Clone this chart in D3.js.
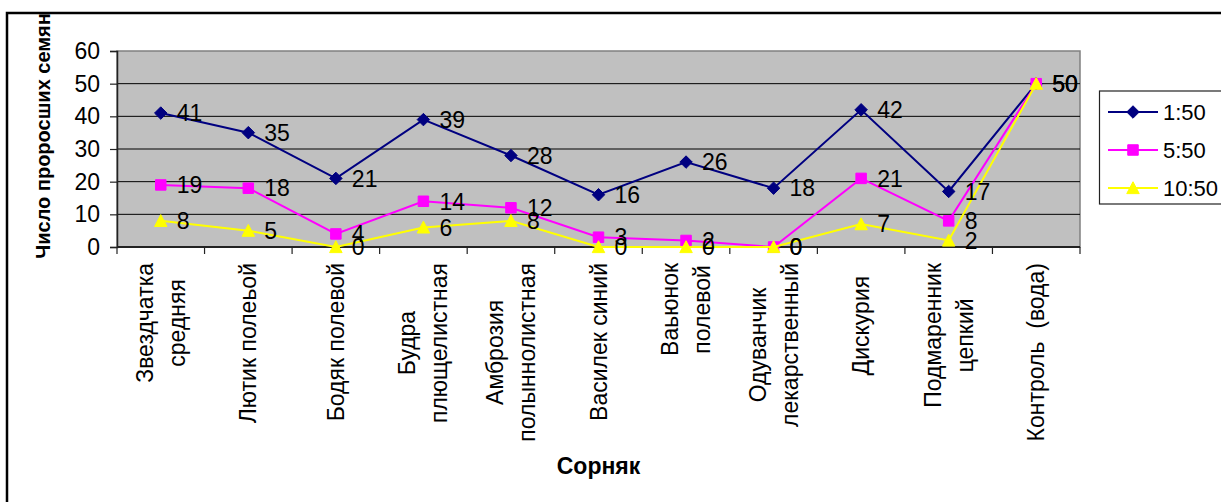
<!DOCTYPE html>
<html>
<head>
<meta charset="utf-8">
<script src="https://cdn.jsdelivr.net/npm/d3@7"></script>
<style>
  html, body { margin: 0; padding: 0; background: #fff; overflow: hidden; }
  svg { display: block; }
  text { font-family: "Liberation Sans", Arial, sans-serif; fill: #000; }
</style>
</head>
<body>
<svg id="chart" width="1221" height="502"></svg>
<script>
// ---- data ----
const categories = [
  "Звездчатка\nсредняя",
  "Лютик полеьой",
  "Бодяк полевой",
  "Будра\nплющелистная",
  "Амброзия\nполыннолистная",
  "Василек синий",
  "Ваьюнок\nполевой",
  "Одуванчик\nлекарственный",
  "Дискурия  ",
  "Подмаренник\nцепкий",
  "Контроль  (вода)"
];
const seriesNames = ["1:50", "5:50", "10:50"];
const values150 = [41, 35, 21, 39, 28, 16, 26, 18, 42, 17, 50];
const values550 = [19, 18, 4, 14, 12, 3, 2, 0, 21, 8, 50];
const values1050 = [8, 5, 0, 6, 8, 0, 0, 0, 7, 2, 50];
const yTicks = [0, 10, 20, 30, 40, 50, 60];
const yTitle = "Число проросших семян";
const xTitle = "Сорняк";

// ---- styles ----
const colors = ["#000080", "#FF00FF", "#FFFF00"];
const FS = 23;

const svg = d3.select("#chart");
const plot = { left: 117, right: 1080, top: 51, bottom: 247 };

const x = d3.scaleBand().domain(categories).range([plot.left, plot.right]).padding(0);
const cx = c => x(c) + x.bandwidth() / 2;
const y = d3.scaleLinear().domain([0, 60]).range([plot.bottom, plot.top]);

// outer chart border (cropped on right and bottom)
svg.append("rect").attr("x", 7).attr("y", 13).attr("width", 1400).attr("height", 700)
  .attr("fill", "#fff").attr("stroke", "#000").attr("stroke-width", 2.5);

// plot area
svg.append("rect")
  .attr("x", plot.left).attr("y", plot.top)
  .attr("width", plot.right - plot.left).attr("height", plot.bottom - plot.top)
  .attr("fill", "#C0C0C0").attr("stroke", "#808080").attr("stroke-width", 1.5);

// gridlines
svg.append("g").selectAll("line").data(yTicks.filter(t => t > 0 && t < 60)).join("line")
  .attr("x1", plot.left).attr("x2", plot.right)
  .attr("y1", d => y(d)).attr("y2", d => y(d))
  .attr("stroke", "#000").attr("stroke-width", 1);

// y axis
const yAxis = svg.append("g").attr("transform", `translate(${plot.left},0)`)
  .call(d3.axisLeft(y).tickValues(yTicks).tickSize(7).tickPadding(10).tickFormat(d3.format("d")));
yAxis.select(".domain").attr("stroke", "#222").attr("stroke-width", 1.5);
yAxis.selectAll(".tick line").attr("stroke", "#222").attr("stroke-width", 1.2);
yAxis.selectAll(".tick text").attr("font-size", FS).attr("font-family", "Liberation Sans, Arial, sans-serif").attr("fill", "#000");

// x axis (ticks at category boundaries)
svg.append("line").attr("x1", plot.left).attr("x2", plot.right)
  .attr("y1", plot.bottom).attr("y2", plot.bottom).attr("stroke", "#222").attr("stroke-width", 2);
const boundaries = categories.map(c => x(c)).concat([x(categories[categories.length - 1]) + x.bandwidth()]);
svg.append("g").selectAll("line").data(boundaries).join("line")
  .attr("x1", d => d).attr("x2", d => d)
  .attr("y1", plot.bottom).attr("y2", plot.bottom + 7)
  .attr("stroke", "#222").attr("stroke-width", 1.2);

// category labels (rotated)
const labTop = 263;
const lineGap = 32;
categories.forEach(c => {
  const lines = c.split("\n");
  const g = svg.append("g");
  const texts = lines.map((ln, i) => g.append("text")
    .attr("font-size", FS)
    .style("white-space", "pre")
    .attr("text-anchor", "middle")
    .text(ln));
  const maxLen = d3.max(texts, t => t.node().getComputedTextLength());
  const n = lines.length;
  texts.forEach((t, i) => {
    const off = (i - (n - 1) / 2) * lineGap;
    t.attr("transform", `translate(${cx(c) + off},${labTop + maxLen / 2}) rotate(-90)`)
      .attr("dy", "0.35em");
  });
});

// axis titles
svg.append("text")
  .attr("transform", `translate(50,136) rotate(-90)`)
  .attr("text-anchor", "middle").attr("font-size", 20).attr("font-weight", "bold")
  .text(yTitle);
svg.append("text")
  .attr("x", (plot.left + plot.right) / 2).attr("y", 474)
  .attr("text-anchor", "middle").attr("font-size", FS).attr("font-weight", "bold")
  .text(xTitle);

// series
const series = [values150, values550, values1050];
const diamond = { draw(ctx, size) { const r = Math.sqrt(size) / 2; ctx.moveTo(0, -r); ctx.lineTo(r, 0); ctx.lineTo(0, r); ctx.lineTo(-r, 0); ctx.closePath(); } };
const triangle = { draw(ctx, size) { const r = Math.sqrt(size) / 2; ctx.moveTo(0, -r); ctx.lineTo(r, r * 0.9); ctx.lineTo(-r, r * 0.9); ctx.closePath(); } };
const markerTypes = [
  d3.symbol().type(diamond).size(156),
  d3.symbol().type(d3.symbolSquare).size(110),
  d3.symbol().type(triangle).size(156)
];
const line = d3.line().x((d, i) => cx(categories[i])).y(d => y(d));

series.forEach((vals, si) => {
  svg.append("path").datum(vals).attr("d", line)
    .attr("fill", "none").attr("stroke", colors[si]).attr("stroke-width", 2);
  svg.append("g").selectAll("path").data(vals).join("path")
    .attr("d", markerTypes[si])
    .attr("transform", (d, i) => `translate(${cx(categories[i])},${y(d)})`)
    .attr("fill", colors[si]).attr("stroke", colors[si]).attr("stroke-width", 1);
});

// data labels
series.forEach((vals, si) => {
  svg.append("g").selectAll("text").data(vals).join("text")
    .attr("x", (d, i) => cx(categories[i]) + 16)
    .attr("y", d => y(d))
    .attr("dy", "0.36em")
    .attr("font-size", FS)
    .text(d => d);
});

// legend
const lg = svg.append("g");
lg.append("rect").attr("x", 1099.5).attr("y", 91).attr("width", 140).attr("height", 113)
  .attr("fill", "#fff").attr("stroke", "#222").attr("stroke-width", 1.2);
const legendY = [112, 150, 188];
seriesNames.forEach((name, si) => {
  lg.append("line").attr("x1", 1108).attr("x2", 1158).attr("y1", legendY[si]).attr("y2", legendY[si])
    .attr("stroke", colors[si]).attr("stroke-width", 2);
  lg.append("path").attr("d", markerTypes[si]).attr("transform", `translate(1133,${legendY[si]})`)
    .attr("fill", colors[si]).attr("stroke", colors[si]);
  lg.append("text").attr("x", 1163).attr("y", legendY[si]).attr("dy", "0.36em")
    .attr("font-size", 22).text(name);
});
</script>
</body>
</html>
